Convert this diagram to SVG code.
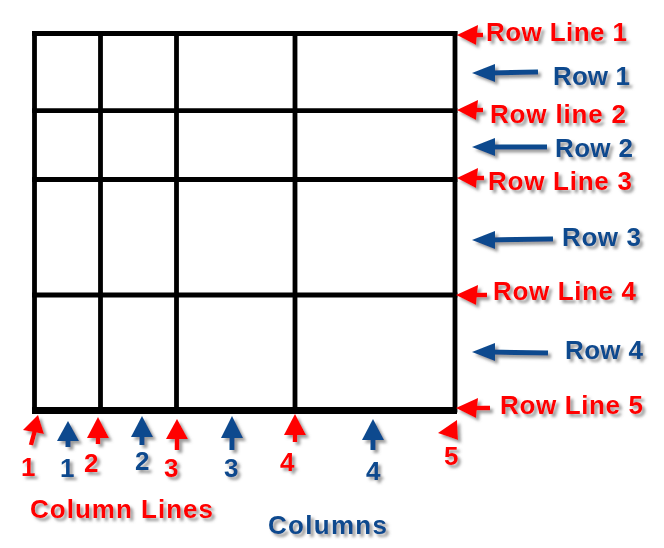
<svg xmlns="http://www.w3.org/2000/svg" width="664" height="548" viewBox="0 0 664 548">
<defs>
<filter id="sh" x="-20%" y="-30%" width="140%" height="170%">
<feDropShadow dx="3" dy="3" stdDeviation="1.8" flood-color="#666" flood-opacity="0.65"/>
</filter>
</defs>
<style>
.g{stroke:#000;stroke-width:4.8;fill:none;stroke-linecap:square}
.t{font-family:"Liberation Sans",Arial,sans-serif;font-weight:bold;font-size:26px}
.d{font-family:"Liberation Sans",Arial,sans-serif;font-weight:bold;font-size:26px}
.r{fill:#ff0000}
.b{fill:#0d4a8e}
.rs{stroke:#ff0000;stroke-width:4.5;fill:none}
.bs{stroke:#0d4a8e;stroke-width:5;fill:none}
</style>
<rect width="664" height="548" fill="#fff"/>
<g id="grid">
<line class="g" x1="34.5" y1="33.5" x2="455" y2="33.5"/>
<line class="g" x1="34.5" y1="110.7" x2="455" y2="110.7"/>
<line class="g" x1="34.5" y1="179.5" x2="455" y2="179.5"/>
<line class="g" x1="34.5" y1="295" x2="455" y2="295"/>
<line x1="32" y1="410.5" x2="457" y2="410.5" stroke="#000" stroke-width="7"/>
<line class="g" x1="34.5" y1="33.5" x2="34.5" y2="410"/>
<line class="g" x1="100.5" y1="33.5" x2="100.5" y2="410"/>
<line class="g" x1="176.5" y1="33.5" x2="176.5" y2="410"/>
<line class="g" x1="295" y1="33.5" x2="295" y2="410"/>
<line class="g" x1="455" y1="33.5" x2="455" y2="410"/>
</g>
<g id="connectors" filter="url(#sh)">
<g id="rl1"><polygon class="r" points="457,35 478,25 476,45"/><line class="rs" x1="472" y1="35" x2="483" y2="35"/></g>
<g id="rl2"><polygon class="r" points="457,110 478,100 476,120"/><line class="rs" x1="472" y1="110" x2="483" y2="110"/></g>
<g id="rl3"><polygon class="r" points="457,178 478,168 476,188"/><line class="rs" x1="472" y1="178" x2="484" y2="178"/></g>
<g id="rl4"><polygon class="r" points="456,295 478,285 476,305"/><line class="rs" x1="472" y1="295" x2="487" y2="295"/></g>
<g id="rl5"><polygon class="r" points="456,408 478,398 476,418"/><line class="rs" x1="472" y1="408" x2="490" y2="408"/></g>
<g id="ra1"><polygon class="b" points="472,73 495,64 495,82"/><line class="bs" x1="490" y1="73" x2="538" y2="72"/></g>
<g id="ra2"><polygon class="b" points="472,147 495,138 495,156"/><line class="bs" x1="490" y1="147" x2="547" y2="147"/></g>
<g id="ra3"><polygon class="b" points="472,240 495,231 495,249"/><line class="bs" x1="490" y1="240" x2="553" y2="239"/></g>
<g id="ra4"><polygon class="b" points="472,352 495,343 495,361"/><line class="bs" x1="490" y1="352" x2="548" y2="353"/></g>
<g id="cl1"><polygon class="r" points="38,415 23,430 44,434"/><line class="rs" x1="35" y1="430" x2="31" y2="445"/></g>
<g id="cl2"><polygon class="r" points="98,417 87,438 109,438"/><line class="rs" x1="98" y1="435" x2="98" y2="444"/></g>
<g id="cl3"><polygon class="r" points="177,419 166,439 188,439"/><line class="rs" x1="177" y1="436" x2="177" y2="450"/></g>
<g id="cl4"><polygon class="r" points="295,414 284,435 306,435"/><line class="rs" x1="295" y1="433" x2="295" y2="442"/></g>
<g id="cl5"><polygon class="r" points="457,420 438,433 458,440"/></g>
<g id="ca1"><polygon class="b" points="68,421 57,441 79,441"/><line class="bs" x1="68" y1="438" x2="68" y2="447"/></g>
<g id="ca2"><polygon class="b" points="142,416 131,437 153,437"/><line class="bs" x1="142" y1="435" x2="142" y2="445"/></g>
<g id="ca3"><polygon class="b" points="232,416 221,438 243,438"/><line class="bs" x1="232" y1="436" x2="232" y2="450"/></g>
<g id="ca4"><polygon class="b" points="373,419 362,440 384,440"/><line class="bs" x1="373" y1="438" x2="373" y2="450"/></g>
</g>
<g id="labels" filter="url(#sh)">
<text class="t r" x="486" y="41" textLength="141">Row Line 1</text>
<text class="t r" x="490" y="123" textLength="136">Row line 2</text>
<text class="t r" x="488" y="190" textLength="144">Row Line 3</text>
<text class="t r" x="493" y="300" textLength="143">Row Line 4</text>
<text class="t r" x="500" y="414" textLength="143">Row Line 5</text>
<text class="t b" x="553" y="85" textLength="77">Row 1</text>
<text class="t b" x="555" y="157" textLength="78">Row 2</text>
<text class="t b" x="562" y="246" textLength="79">Row 3</text>
<text class="t b" x="565" y="359" textLength="78">Row 4</text>
<text class="d r" x="21" y="476">1</text>
<text class="d r" x="84" y="472">2</text>
<text class="d r" x="164" y="477">3</text>
<text class="d r" x="280" y="471">4</text>
<text class="d r" x="444" y="465">5</text>
<text class="d b" x="60" y="477">1</text>
<text class="d b" x="135" y="470">2</text>
<text class="d b" x="224" y="477">3</text>
<text class="d b" x="366" y="480">4</text>
<text class="t r" x="30" y="518" textLength="183">Column Lines</text>
<text class="t b" x="268" y="534" textLength="119">Columns</text>
</g>
</svg>
